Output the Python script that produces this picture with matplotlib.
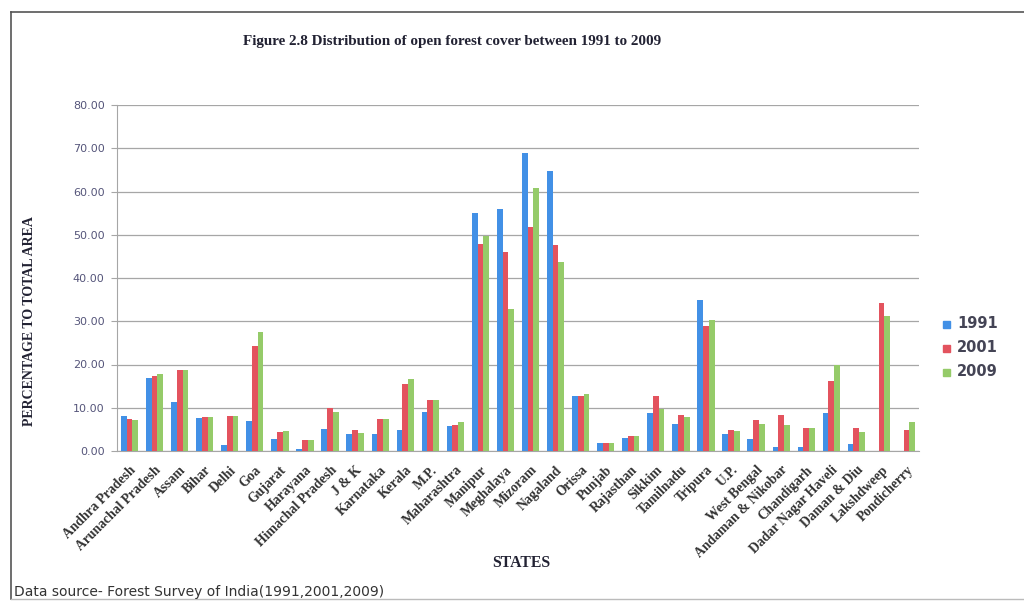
import matplotlib
matplotlib.use('Agg')
import matplotlib.pyplot as plt
import numpy as np
from matplotlib.lines import Line2D

states = ['Andhra Pradesh', 'Arunachal Pradesh', 'Assam', 'Bihar', 'Delhi', 'Goa',
          'Gujarat', 'Harayana', 'Himachal Pradesh', 'J & K', 'Karnataka', 'Kerala',
          'M.P.', 'Maharashtra', 'Manipur', 'Meghalaya', 'Mizoram', 'Nagaland',
          'Orissa', 'Punjab', 'Rajasthan', 'Sikkim', 'Tamilnadu', 'Tripura', 'U.P.',
          'West Bengal', 'Andaman & Nikobar', 'Chandigarh', 'Dadar Nagar Haveli',
          'Daman & Diu', 'Lakshdweep', 'Pondicherry']

y1991 = [8.1, 16.9, 11.3, 7.6, 1.5, 7.0, 2.8, 0.5, 5.1, 4.0, 3.9, 4.9, 9.1, 5.8,
         55.1, 55.9, 68.8, 64.7, 12.8, 1.8, 2.9, 8.9, 6.2, 35.0, 3.9, 2.8, 0.9, 0.9,
         8.9, 1.7, 0.0, 0.0]
y2001 = [7.4, 17.3, 18.8, 7.9, 8.1, 24.2, 4.5, 2.5, 9.9, 4.9, 7.5, 15.4, 11.7, 6.0,
         47.8, 46.1, 51.9, 47.6, 12.8, 1.8, 3.4, 12.8, 8.3, 29.0, 4.9, 7.2, 8.3, 5.3,
         16.3, 5.3, 34.3, 4.9]
y2009 = [7.1, 17.9, 18.8, 7.8, 8.0, 27.4, 4.7, 2.5, 9.1, 4.2, 7.3, 16.7, 11.7, 6.7,
         49.8, 32.9, 60.9, 43.7, 13.1, 1.8, 3.4, 9.8, 7.9, 30.2, 4.6, 6.2, 6.0, 5.3,
         19.9, 4.5, 31.1, 6.6]

years = ['1991', '2001', '2009']
colors = ['#4290e6', '#e3535e', '#95cb69']

W, H = 1024, 602
fig = plt.figure(figsize=(W / 100, H / 100), dpi=100)
fig.patch.set_facecolor('white')

# axes box in pixels: x 117..919, y 105..451
ax = fig.add_axes([117 / W, 1 - 451 / H, (919 - 117) / W, (451 - 105) / H])

x = np.arange(len(states))
bw = 0.23
for k, vals in enumerate([y1991, y2001, y2009]):
    ax.bar(x + (k - 1) * bw, vals, width=bw, color=colors[k], linewidth=0, zorder=3)

ax.set_xlim(-0.5, len(states) - 0.5)
ax.set_ylim(0, 80)
ax.set_yticks(np.arange(0, 81, 10))
ax.set_yticklabels([f'{v:.2f}' for v in np.arange(0, 81, 10)],
                   fontsize=8, color='#55557a', family='DejaVu Sans')
ax.yaxis.grid(True, color='#a6a6a6', linewidth=0.9, zorder=0)
ax.tick_params(axis='y', length=4, color='#a6a6a6', pad=5)
ax.tick_params(axis='x', length=0, pad=9)
ax.set_xticks(x)
ax.set_xticklabels(states, rotation=45, ha='right', rotation_mode='anchor',
                   fontsize=9.8, fontweight='bold', family='Liberation Serif',
                   color='#333333')
for s in ['top', 'right']:
    ax.spines[s].set_visible(False)
ax.spines['left'].set_color('#a6a6a6')
ax.spines['bottom'].set_color('#a6a6a6')

# titles and labels
fig.text(452 / W, 1 - 41 / H, 'Figure 2.8 Distribution of open forest cover between 1991 to 2009',
         ha='center', va='center', fontsize=10.9, fontweight='bold',
         family='Liberation Serif', color='#222233')
fig.text(30 / W, 1 - 321 / H, 'PERCENTAGE TO TOTAL AREA', rotation=90,
         ha='center', va='center', fontsize=10, fontweight='bold',
         family='Liberation Serif', color='#222233')
fig.text(521 / W, 1 - 563 / H, 'STATES', ha='center', va='center',
         fontsize=11.3, fontweight='bold', family='Liberation Serif', color='#222233')
fig.text(14 / W, 1 - 592 / H, 'Data source- Forest Survey of India(1991,2001,2009)',
         ha='left', va='center', fontsize=10, family='DejaVu Sans', color='#333333')

# legend
for k, yr in enumerate(years):
    yy = 1 - (324 + k * 24) / H
    fig.patches.append(plt.Rectangle((943 / W, yy - 3.5 / H), 7 / W, 7 / H,
                                     transform=fig.transFigure, color=colors[k]))
    fig.text(957 / W, yy, yr, ha='left', va='center', fontsize=10.5,
             fontweight='bold', family='DejaVu Sans', color='#444455')

# outer frame
fc = '#555555'
fig.add_artist(Line2D([11 / W, 11 / W], [1 - 12 / H, 1 - 599 / H], color=fc, lw=1.2,
                      transform=fig.transFigure))
fig.add_artist(Line2D([11 / W, 1.0], [1 - 12 / H, 1 - 12 / H], color=fc, lw=1.2,
                      transform=fig.transFigure))
fig.add_artist(Line2D([11 / W, 1.0], [1 - 599 / H, 1 - 599 / H], color='#bbbbbb', lw=1,
                      transform=fig.transFigure))

fig.savefig('out.png', dpi=100)
